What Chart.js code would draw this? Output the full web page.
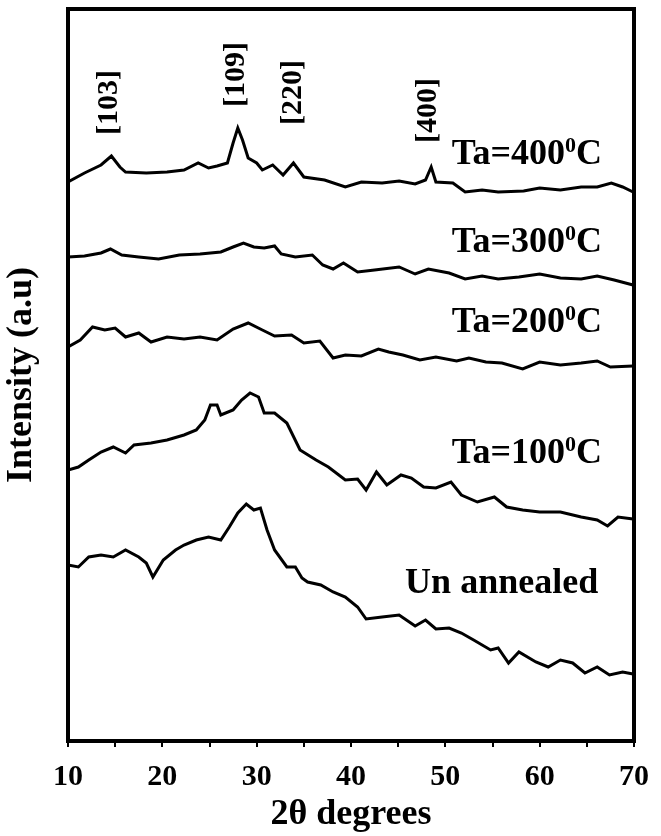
<!DOCTYPE html>
<html>
<head>
<meta charset="utf-8">
<script src="https://cdn.jsdelivr.net/npm/chart.js@4"></script>
<style>
  body { margin: 0; background: #fff; }
</style>
</head>
<body>
<canvas id="xrdChart" width="661" height="836"></canvas>
<script>
// 2-theta (degrees) and stacked intensity (a.u.)
const theta400 = [10, 11.75, 13.5, 14.6, 15.5, 16.1, 18.3, 20.5, 22.3, 23.8, 24.9, 25.8, 26.9, 27.5, 28.0, 28.5, 29.1, 30.0, 30.6, 31.7, 32.8, 33.9, 35.0, 37.2, 39.4, 41.1, 43.3, 45.1, 46.8, 47.9, 48.5, 49.0, 50.8, 52.1, 53.9, 55.6, 58.3, 60.0, 62.2, 64.4, 66.1, 67.6, 68.8, 69.9];
const int400 = [559, 568, 576, 585, 574, 569, 568, 569, 571, 578, 573, 575, 578, 598, 613, 601, 583, 578, 571, 576, 566, 578, 564, 561, 554, 559, 558, 560, 557, 561, 574, 559, 558, 549, 551, 549, 550, 553, 551, 554, 554, 558, 554, 549];

const theta300 = [10, 11.75, 13.5, 14.5, 15.7, 17.5, 19.6, 21.8, 24.0, 26.2, 27.5, 28.6, 29.7, 30.8, 31.9, 32.6, 34.1, 35.9, 37.0, 38.1, 39.2, 40.7, 42.5, 45.1, 46.8, 48.2, 50.4, 52.1, 53.9, 55.6, 57.8, 60.0, 62.2, 64.4, 66.1, 67.9, 69.9];
const int300 = [484, 485, 488, 492, 486, 484, 482, 486, 487, 489, 494, 498, 494, 493, 495, 487, 484, 486, 476, 472, 478, 469, 471, 474, 467, 472, 468, 462, 465, 462, 464, 467, 463, 462, 465, 461, 456];

const theta200 = [10, 11.3, 12.6, 13.9, 15.0, 16.1, 17.5, 18.8, 20.5, 22.3, 24.0, 25.8, 27.5, 29.1, 30.6, 31.9, 33.7, 35.0, 36.7, 38.1, 39.4, 41.1, 42.9, 44.0, 45.5, 47.3, 49.0, 51.2, 52.5, 54.3, 56.0, 58.2, 60.0, 62.2, 64.4, 66.1, 67.5, 69.9];
const int200 = [394, 401, 414, 411, 413, 404, 408, 399, 404, 402, 404, 401, 412, 418, 411, 405, 406, 398, 400, 383, 386, 385, 392, 389, 386, 381, 384, 380, 383, 379, 378, 372, 379, 376, 378, 380, 374, 375];

const theta100 = [10, 11.1, 12.2, 13.5, 14.8, 16.1, 17.0, 18.8, 20.5, 22.3, 23.6, 24.5, 25.1, 25.8, 26.2, 27.5, 28.4, 29.3, 30.2, 30.8, 31.9, 33.2, 34.6, 36.3, 37.6, 39.4, 40.7, 41.6, 42.7, 43.8, 45.3, 46.4, 47.7, 49.0, 50.6, 51.7, 53.4, 55.2, 56.5, 58.2, 60.0, 62.2, 64.4, 66.1, 67.2, 68.3, 69.9];
const int100 = [271, 274, 281, 289, 294, 288, 296, 298, 301, 306, 311, 321, 336, 336, 326, 331, 341, 348, 344, 328, 328, 318, 291, 281, 274, 261, 262, 251, 269, 256, 266, 263, 254, 253, 259, 246, 239, 244, 234, 231, 229, 229, 224, 221, 215, 224, 222];

const thetaUn = [10, 11.1, 12.2, 13.5, 14.8, 16.1, 17.5, 18.3, 19.0, 20.1, 21.4, 22.3, 23.6, 24.9, 26.2, 27.1, 28.0, 28.9, 29.7, 30.4, 31.1, 31.9, 33.2, 34.1, 34.8, 35.4, 36.8, 38.1, 39.4, 40.7, 41.6, 43.3, 45.1, 46.8, 47.9, 49.0, 50.4, 51.7, 53.0, 54.8, 55.6, 56.7, 57.8, 59.6, 60.9, 62.2, 63.5, 64.8, 66.1, 67.4, 68.8, 69.9];
const intUn = [176, 174, 184, 186, 184, 191, 184, 178, 164, 181, 191, 196, 201, 204, 201, 214, 228, 237, 231, 233, 211, 191, 174, 174, 163, 159, 156, 149, 144, 134, 122, 124, 126, 115, 121, 112, 113, 108, 101, 91, 93, 78, 89, 79, 74, 81, 78, 68, 74, 66, 69, 67];

const curveLabels = ['Ta=400⁰C', 'Ta=300⁰C', 'Ta=200⁰C', 'Ta=100⁰C', 'Un annealed'];
const peakLabels = ['[103]', '[109]', '[220]', '[400]'];
const peakTheta = [14.4, 27.8, 33.9, 48.2];
const xTicks = [10, 20, 30, 40, 50, 60, 70];

const serif = "'Liberation Serif', 'Times New Roman', serif";

function pairs(xs, ys) {
    return xs.map((v, i) => ({ x: v, y: ys[i] }));
}

// where the text sits, in data units (right edge / baseline)
const curveLabelPos = [[66.6, 577], [66.6, 489], [66.6, 409], [66.6, 278], [66.2, 148]];
const peakLabelY = [606, 634, 616, 598];

const xrdLabels = {
    id: 'xrdLabels',
    afterDraw(chart) {
        const { ctx, chartArea: a, scales: { x, y } } = chart;
        ctx.save();
        // frame round the plot
        ctx.strokeStyle = '#000';
        ctx.lineWidth = 4;
        ctx.strokeRect(a.left, a.top, a.right - a.left, a.bottom - a.top);

        ctx.fillStyle = '#000';
        ctx.textBaseline = 'alphabetic';
        ctx.textAlign = 'left';
        const big = 'bold 36px ' + serif;
        const small = 'bold 22px ' + serif;
        curveLabels.forEach((txt, i) => {
            const right = x.getPixelForValue(curveLabelPos[i][0]);
            const base = y.getPixelForValue(curveLabelPos[i][1]);
            const parts = txt.split('⁰');
            ctx.font = big;
            const w0 = ctx.measureText(parts[0]).width;
            const w2 = parts.length > 1 ? ctx.measureText(parts[1]).width : 0;
            ctx.font = small;
            const w1 = parts.length > 1 ? ctx.measureText('0').width : 0;
            let px = right - (w0 + w1 + w2);
            ctx.font = big;
            ctx.fillText(parts[0], px, base);
            if (parts.length > 1) {
                px += w0;
                ctx.font = small;
                ctx.fillText('0', px, base - 12);
                px += w1;
                ctx.font = big;
                ctx.fillText(parts[1], px, base);
            }
        });

        // Miller indices, rotated
        ctx.font = 'bold 30px ' + serif;
        ctx.textBaseline = 'middle';
        peakLabels.forEach((txt, i) => {
            ctx.save();
            ctx.translate(x.getPixelForValue(peakTheta[i]), y.getPixelForValue(peakLabelY[i]));
            ctx.rotate(-Math.PI / 2);
            ctx.fillText(txt, 0, 0);
            ctx.restore();
        });
        ctx.restore();
    }
};

new Chart(document.getElementById('xrdChart'), {
    type: 'line',
    data: {
        datasets: [
            { label: 'Ta=400', data: pairs(theta400, int400) },
            { label: 'Ta=300', data: pairs(theta300, int300) },
            { label: 'Ta=200', data: pairs(theta200, int200) },
            { label: 'Ta=100', data: pairs(theta100, int100) },
            { label: 'Un annealed', data: pairs(thetaUn, intUn) }
        ]
    },
    options: {
        responsive: false,
        animation: false,
        layout: { padding: { top: 9, right: 16, left: 0, bottom: 0 } },
        plugins: { legend: { display: false }, tooltip: { enabled: false } },
        elements: {
            point: { radius: 0 },
            line: { borderWidth: 3, borderColor: '#000', tension: 0 }
        },
        scales: {
            x: {
                type: 'linear', min: 10, max: 70,
                afterFit: s => { s.height = 95; },
                afterBuildTicks: s => {
                    s.ticks = [];
                    for (let v = 10; v <= 70; v += 5) s.ticks.push({ value: v });
                },
                ticks: {
                    autoSkip: false, maxRotation: 0, padding: 12, color: '#000',
                    font: { family: serif, size: 30, weight: 'bold' },
                    callback: v => xTicks.includes(v) ? v : ''
                },
                grid: { drawOnChartArea: false, drawTicks: true, tickLength: 6, color: '#000', lineWidth: 2 },
                border: { display: false },
                title: {
                    display: true, text: '2θ degrees', color: '#000', padding: 0,
                    font: { family: serif, size: 36, weight: 'bold' }
                }
            },
            y: {
                min: 0, max: 732,
                afterFit: s => { s.width = 68; },
                ticks: { display: false },
                grid: { display: false },
                border: { display: false },
                title: {
                    display: true, text: 'Intensity (a.u)', color: '#000', padding: 0,
                    font: { family: serif, size: 36, weight: 'bold' }
                }
            }
        }
    },
    plugins: [xrdLabels]
});
</script>
</body>
</html>
